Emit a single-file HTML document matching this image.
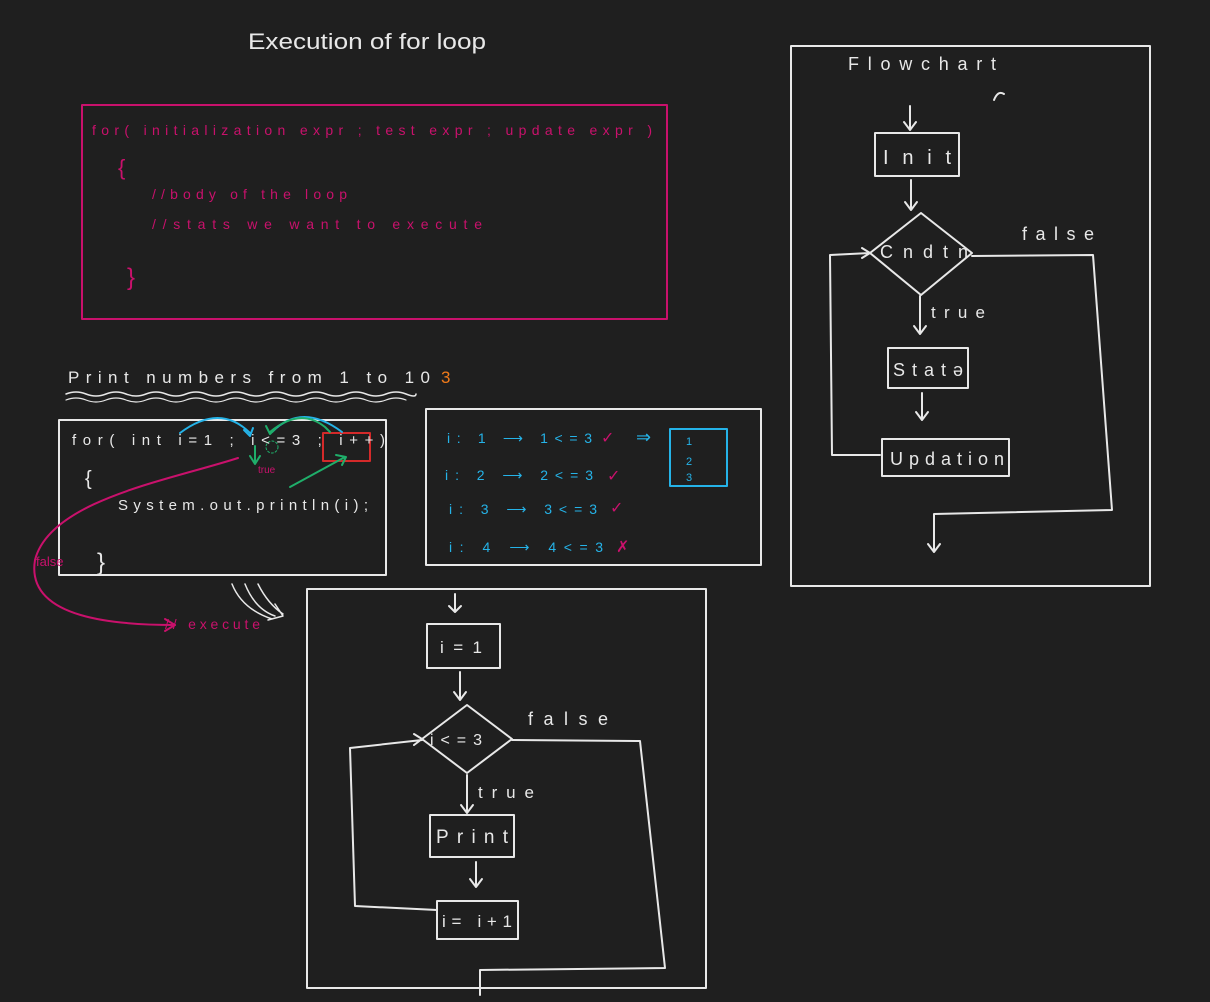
<!DOCTYPE html>
<html><head><meta charset="utf-8"><style>
html,body{margin:0;padding:0;background:#1e1e1e;}
svg{display:block}
text{font-family:"Liberation Sans",sans-serif}
</style></head><body>
<svg width="1210" height="1002" viewBox="0 0 1210 1002" xmlns="http://www.w3.org/2000/svg">
<rect width="1210" height="1002" fill="#1f1f1f"/>
<g fill="none" stroke-linecap="round" stroke-linejoin="round">
<rect x="82" y="105" width="585" height="214" stroke="#c9116c" stroke-width="2"/>
<rect x="59" y="420" width="327" height="155" stroke="#e8e8e8" stroke-width="2"/>
<rect x="426" y="409" width="335" height="156" stroke="#e8e8e8" stroke-width="2"/>
<rect x="670" y="429" width="57" height="57" stroke="#25b3e8" stroke-width="2"/>
<rect x="791" y="46" width="359" height="540" stroke="#e8e8e8" stroke-width="2"/>
<rect x="307" y="589" width="399" height="399" stroke="#e8e8e8" stroke-width="2"/>
<rect x="323" y="433" width="47" height="28" stroke="#d42a2a" stroke-width="2"/>
<path d="M66 394 q10 -4 20 0 t20 0 t20 0 t20 0 t20 0 t20 0 t20 0 t20 0 t20 0 t20 0 t20 0 t20 0 t20 0 t20 0 t20 0 t20 0 t20 0 t10 0" stroke="#e8e8e8" stroke-width="1.5"/>
<path d="M66 400 q10 -4 20 0 t20 0 t20 0 t20 0 t20 0 t20 0 t20 0 t20 0 t20 0 t20 0 t20 0 t20 0 t20 0 t20 0 t20 0 t20 0 t20 0" stroke="#e8e8e8" stroke-width="1.2"/>
<path d="M180 433 q40 -30 70 0" stroke="#25b3e8" stroke-width="2"/>
<path d="M244 430 l6 6 l3 -8" stroke="#25b3e8" stroke-width="2"/>
<path d="M272 432 q30 -30 70 0" stroke="#25b3e8" stroke-width="2"/>
<path d="M270 432 q30 -25 55 -5 l5 5" stroke="#1fae6a" stroke-width="2"/>
<path d="M266 426 l4 8 l6 -6" stroke="#1fae6a" stroke-width="2"/>
<path d="M255 446 v15 M250 456 l5 8 l5 -8" stroke="#1fae6a" stroke-width="2"/>
<path d="M290 487 l55 -30 M336 455 l10 2 l-4 8" stroke="#1fae6a" stroke-width="2"/>
<circle cx="272" cy="447" r="6" stroke="#1fae6a" stroke-dasharray="2 2"/>
<path d="M238 458 C170 480 50 500 35 560 C25 620 120 625 175 625" stroke="#c9116c" stroke-width="2"/>
<path d="M165 619 l10 6 l-10 6" stroke="#c9116c" stroke-width="2"/>
<path d="M232 584 q10 25 40 35 M245 584 q10 25 30 32 M258 584 q10 20 25 30 M268 620 l15 -4 l-8 -12" stroke="#e8e8e8" stroke-width="1.5"/>
<g stroke="#e8e8e8" stroke-width="2">
<path d="M910 106 v24 M904 122 l6 8 l6 -8"/>
<rect x="875" y="133" width="84" height="43"/>
<path d="M911 180 v30 M905 202 l6 8 l6 -8"/>
<path d="M921 213 L972 253 L921 295 L870 253 Z"/>
<path d="M920 296 v38 M914 326 l6 8 l6 -8"/>
<rect x="888" y="348" width="80" height="40"/>
<path d="M922 393 v27 M916 412 l6 8 l6 -8"/>
<rect x="882" y="439" width="127" height="37"/>
<path d="M972 256 L1093 255 L1112 510 L934 514 v38 M928 544 l6 8 l6 -8"/>
<path d="M880 455 L832 455 L830 255 L870 253 M862 248 l8 5 l-8 5"/>
<path d="M994 100 q4 -10 10 -6"/>
</g>
<g stroke="#e8e8e8" stroke-width="2">
<path d="M455 594 v18 M449 606 l6 6 l6 -6"/>
<rect x="427" y="624" width="73" height="44"/>
<path d="M460 672 v28 M454 692 l6 8 l6 -8"/>
<path d="M467 705 L512 739 L467 773 L422 739 Z"/>
<path d="M467 775 v38 M461 805 l6 8 l6 -8"/>
<rect x="430" y="815" width="84" height="42"/>
<path d="M476 862 v25 M470 879 l6 8 l6 -8"/>
<rect x="437" y="901" width="81" height="38"/>
<path d="M512 740 L640 741 L665 968 L480 970 v25"/>
<path d="M437 910 L355 906 L350 748 L422 740 M414 734 l8 5 l-8 6"/>
</g>
</g>
<g fill="#e8e8e8">
<text x="248" y="49" font-size="22" textLength="238" lengthAdjust="spacingAndGlyphs">Execution of for loop</text>
<text x="68" y="383" font-size="17" textLength="362" lengthAdjust="spacing">Print  numbers  from  1  to  10</text>
<text x="441" y="383" font-size="17" fill="#f07a1a">3</text>
<text x="72" y="445" font-size="15" textLength="313" lengthAdjust="spacing">for( int  i=1  ;  i&lt;=3  ; i++)</text>
<text x="85" y="485" font-size="20">{</text>
<text x="118" y="510" font-size="15" textLength="250" lengthAdjust="spacing">System.out.println(i);</text>
<text x="97" y="570" font-size="24">}</text>
<text x="848" y="70" font-size="18" textLength="148" lengthAdjust="spacing">Flowchart</text>
<text x="883" y="164" font-size="20" textLength="68" lengthAdjust="spacing">Init</text>
<text x="880" y="258" font-size="18" textLength="88" lengthAdjust="spacing">Cndtn</text>
<text x="1022" y="240" font-size="18" textLength="72" lengthAdjust="spacing">false</text>
<text x="931" y="318" font-size="17" textLength="54" lengthAdjust="spacing">true</text>
<text x="893" y="376" font-size="18" textLength="70" lengthAdjust="spacing">Statǝ</text>
<text x="890" y="465" font-size="18" textLength="114" lengthAdjust="spacing">Updation</text>
<text x="440" y="653" font-size="17" textLength="42" lengthAdjust="spacing">i=1</text>
<text x="430" y="745" font-size="16" textLength="52" lengthAdjust="spacing">i&lt;=3</text>
<text x="528" y="725" font-size="18" textLength="80" lengthAdjust="spacing">false</text>
<text x="478" y="798" font-size="17" textLength="56" lengthAdjust="spacing">true</text>
<text x="436" y="843" font-size="19" textLength="72" lengthAdjust="spacing">Print</text>
<text x="442" y="927" font-size="17" textLength="70" lengthAdjust="spacing">i= i+1</text>
</g>
<g fill="#c9116c" font-size="14">
<text x="92" y="135" textLength="560" lengthAdjust="spacing">for( initialization expr ; test  expr  ; update expr )</text>
<text x="118" y="175" font-size="22">{</text>
<text x="152" y="199" textLength="195" lengthAdjust="spacing">//body  of the loop</text>
<text x="152" y="229" textLength="330" lengthAdjust="spacing">//stats  we  want  to execute</text>
<text x="127" y="285" font-size="24">}</text>
<text x="36" y="566" font-size="13">false</text>
<text x="165" y="629" font-size="14" textLength="95" lengthAdjust="spacing">// execute</text>
<text x="258" y="473" font-size="10">true</text>
</g>
<g fill="#25b3e8" font-size="14">
<text x="447" y="443" textLength="145" lengthAdjust="spacing">i: 1 ⟶  1&lt;=3</text>
<text x="445" y="480" textLength="148" lengthAdjust="spacing">i: 2 ⟶  2&lt;=3</text>
<text x="449" y="514" textLength="148" lengthAdjust="spacing">i: 3 ⟶ 3&lt;=3</text>
<text x="449" y="552" textLength="154" lengthAdjust="spacing">i: 4  ⟶  4&lt;=3</text>
<text x="636" y="443" font-size="18">⇒</text>
<text x="686" y="445" font-size="11">1</text>
<text x="686" y="465" font-size="11">2</text>
<text x="686" y="481" font-size="11">3</text>
</g>
<g fill="#c9116c" font-size="16">
<text x="601" y="443">✓</text>
<text x="607" y="481">✓</text>
<text x="610" y="513">✓</text>
<text x="616" y="552">✗</text>
</g>
</svg>
</body></html>
